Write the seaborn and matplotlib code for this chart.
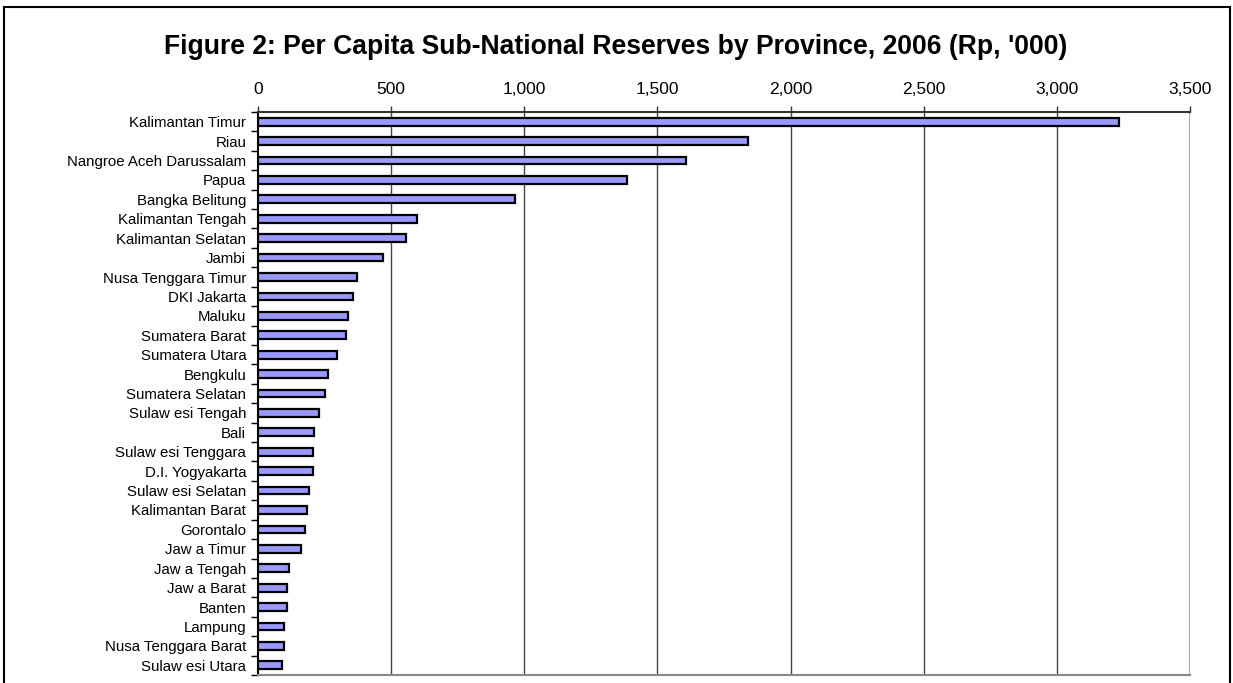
import matplotlib
matplotlib.use("Agg")
import matplotlib.pyplot as plt
import matplotlib.ticker as mticker
from matplotlib.patches import Rectangle
import seaborn as sns
import pandas as pd

provinces = [
    "Kalimantan Timur", "Riau", "Nangroe Aceh Darussalam", "Papua", "Bangka Belitung",
    "Kalimantan Tengah", "Kalimantan Selatan", "Jambi", "Nusa Tenggara Timur", "DKI Jakarta",
    "Maluku", "Sumatera Barat", "Sumatera Utara", "Bengkulu", "Sumatera Selatan",
    "Sulaw esi Tengah", "Bali", "Sulaw esi Tenggara", "D.I. Yogyakarta", "Sulaw esi Selatan",
    "Kalimantan Barat", "Gorontalo", "Jaw a Timur", "Jaw a Tengah", "Jaw a Barat",
    "Banten", "Lampung", "Nusa Tenggara Barat", "Sulaw esi Utara",
]
reserves = [
    3234, 1841, 1607, 1384, 966,
    597, 554, 471, 370, 358,
    338, 330, 298, 261, 250,
    230, 210, 205, 205, 192,
    184, 178, 160, 115, 109,
    109, 97, 97, 89,
]
x_ticks = [0, 500, 1000, 1500, 2000, 2500, 3000, 3500]
title = "Figure 2: Per Capita Sub-National Reserves by Province, 2006 (Rp, '000)"

df = pd.DataFrame({"province": provinces, "value": reserves})

sns.set_style("white")
plt.rcParams["font.family"] = ["Liberation Sans", "DejaVu Sans"]
plt.rcParams["text.color"] = "black"

W, H = 1233, 683
fig = plt.figure(figsize=(W / 100, H / 100), dpi=100)
ax = fig.add_axes([258 / W, 1 - 675 / H, (1190 - 258) / W, (675 - 112) / H])

sns.barplot(data=df, x="value", y="province", orient="h", color="#9999FF",
            edgecolor="black", linewidth=1.6, width=0.4, saturation=1, ax=ax, zorder=3)

ax.set_xlim(0, 3500)
ax.set_ylim(len(provinces) - 0.5, -0.5)
ax.set_xlabel("")
ax.set_ylabel("")

ax.xaxis.tick_top()
ax.set_xticks(x_ticks)
ax.xaxis.set_major_formatter(mticker.FuncFormatter(lambda v, p: f"{int(v):,}"))
ax.tick_params(axis="x", which="major", top=True, bottom=False, length=4, width=1,
               color="#333333", pad=7, labelsize=12.5, labelcolor="black")
for xv in x_ticks[1:]:
    ax.axvline(xv, color="#444444" if xv < 3500 else "#888888",
               lw=1.0 if xv < 3500 else 1.8, zorder=1)

ax.tick_params(axis="y", which="major", left=False, length=0, pad=8.5,
               labelsize=10.8, labelcolor="black")
ax.set_yticks(range(len(provinces)), minor=False)
ax.set_yticks([i - 0.5 for i in range(len(provinces) + 1)], minor=True)
ax.tick_params(axis="y", which="minor", left=True, length=5, width=1, color="black")

ax.spines["top"].set_color("#333333")
ax.spines["top"].set_linewidth(1.5)
ax.spines["left"].set_color("black")
ax.spines["left"].set_linewidth(1.5)
ax.spines["bottom"].set_color("#888888")
ax.spines["bottom"].set_linewidth(1.5)
ax.spines["right"].set_visible(False)

fig.text(616 / W, 1 - 47.5 / H, title, ha="center", va="center",
         fontsize=19.1, fontweight="bold", color="black")

fig.patches.append(Rectangle((4 / W, -0.05), (1230 - 4) / W, 1 - 7 / H + 0.05,
                             transform=fig.transFigure, fill=False,
                             edgecolor="black", lw=1.5))

fig.savefig("out.png", dpi=100)
